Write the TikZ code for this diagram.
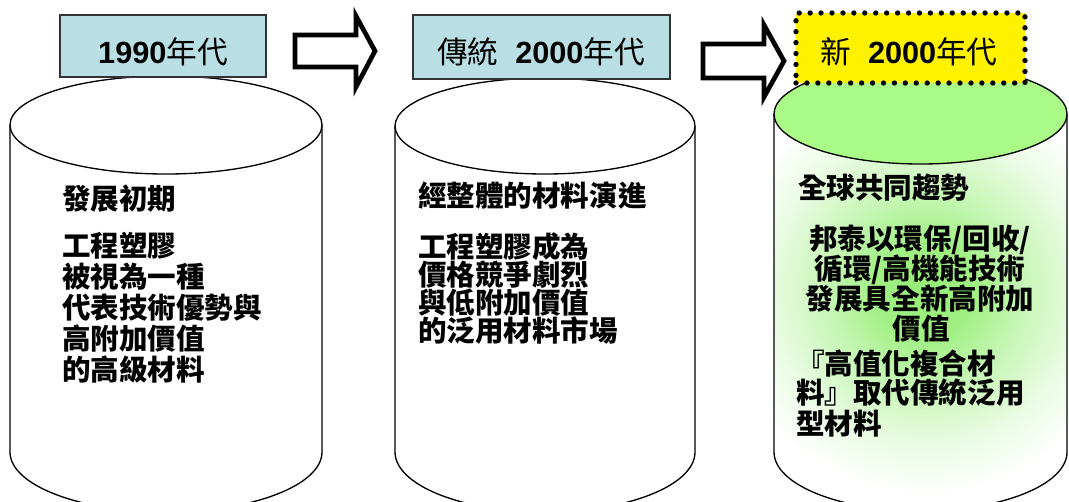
\documentclass[tikz,border=0pt]{standalone}
\usepackage{fontspec}
\setmainfont{Liberation Sans}
\newfontfamily\cjk{Noto Sans CJK TC}
\definecolor{hdrcyan}{RGB}{185,223,228}
\definecolor{cgreen}{RGB}{170,250,136}
\definecolor{cgreenin}{RGB}{150,238,118}
\pgfdeclareradialshading{greenglow}{\pgfpoint{0bp}{0bp}}{color(0bp)=(cgreenin); color(4bp)=(cgreenin!90!white); color(8bp)=(cgreenin!55!white); color(13bp)=(cgreenin!20!white); color(17bp)=(white); color(50bp)=(white)}
\tikzset{
  cylline/.style={draw=black, line width=1pt},
  hdrbox/.style={draw=black!80, line width=0.8pt, fill=hdrcyan, inner sep=0pt},
  newbox/.style={draw=black, fill=yellow, line width=4pt, line cap=round, dash pattern=on 0pt off 8.2pt, inner sep=0pt},
  hdrtxt/.style={inner sep=0pt, font=\fontsize{23}{27}\selectfont},
  bodytxt/.style={inner sep=0pt, font=\cjk\bfseries\fontsize{21.4}{24}\selectfont},
  blockarrow/.style={draw=black, fill=white, line width=3.5pt, line join=miter, miter limit=10},
}
\begin{document}
\begin{tikzpicture}[x=0.75pt,y=-0.75pt]
\useasboundingbox (0,0) rectangle (1069,501);
% cylinder 1
\draw[cylline, fill=white] (10,125) -- (10,452) arc[start angle=180,end angle=0,x radius=156,y radius=60] -- (322,125);
\draw[cylline, fill=white] (166,125) ellipse[x radius=156, y radius=49];
% cylinder 2
\draw[cylline, fill=white] (395,126) -- (395,452) arc[start angle=180,end angle=0,x radius=150,y radius=60] -- (695,126);
\draw[cylline, fill=white] (545,126) ellipse[x radius=150, y radius=48];
% cylinder 3
\fill[white] (774,114) -- (774,452) arc[start angle=180,end angle=0,x radius=146.5,y radius=59] -- (1067,114) -- cycle;
\begin{scope}
\clip (774,114) -- (774,452) arc[start angle=180,end angle=0,x radius=146.5,y radius=59] -- (1067,114) -- cycle;
\shade[shading=greenglow] (625,-10) rectangle (1225,590);
\end{scope}
\draw[cylline] (774,114) -- (774,452) arc[start angle=180,end angle=0,x radius=146.5,y radius=59] -- (1067,114);
\draw[cylline, fill=cgreen] (920.5,114) ellipse[x radius=146.5, y radius=50];
% header boxes
\node[hdrbox, minimum width=206*0.75pt, minimum height=62*0.75pt] (h1) at (163,46) {};
\node[hdrbox, minimum width=257*0.75pt, minimum height=64*0.75pt] (h2) at (541.5,47) {};
\node[newbox, minimum width=229*0.75pt, minimum height=70*0.75pt] (h3) at (910.5,48) {};
\node[hdrtxt, anchor=base] (t1) at (163,63) {\textbf{1990}{\cjk 年代}};
\node[hdrtxt, anchor=base] (t2) at (541,63) {{\cjk 傳統}\hspace{0.55em}\textbf{2000}{\cjk 年代}};
\node[hdrtxt, anchor=base] (t3) at (909,63) {{\cjk 新}\hspace{0.55em}\textbf{2000}{\cjk 年代}};
% block arrows
\draw[blockarrow] (295,35) -- (356,35) -- (356,16) -- (375,51) -- (356,87) -- (356,67) -- (295,67) -- cycle;
\draw[blockarrow] (703,44) -- (764,44) -- (764,25) -- (784,61) -- (764,97) -- (764,78) -- (703,78) -- cycle;
% cylinder 1 text
\node[bodytxt, anchor=base west] (a0) at (62,209) {發展初期};
\node[bodytxt, anchor=base west] (a1) at (62,256) {工程塑膠};
\node[bodytxt, anchor=base west] (a2) at (62,287) {被視為一種};
\node[bodytxt, anchor=base west] (a3) at (62,318) {代表技術優勢與};
\node[bodytxt, anchor=base west] (a4) at (62,349) {高附加價值};
\node[bodytxt, anchor=base west] (a5) at (62,380) {的高級材料};
% cylinder 2 text
\node[bodytxt, anchor=base west] (b0) at (418,206) {經整體的材料演進};
\node[bodytxt, anchor=base west] (b1) at (418,257) {工程塑膠成為};
\node[bodytxt, anchor=base west] (b2) at (418,285) {價格競爭劇烈};
\node[bodytxt, anchor=base west] (b3) at (418,313) {與低附加價值};
\node[bodytxt, anchor=base west] (b4) at (418,341) {的泛用材料市場};
% cylinder 3 text
\node[bodytxt, anchor=base west] (c0) at (798,198) {全球共同趨勢};
\node[bodytxt, anchor=base] (c1) at (920,249) {邦泰以環保/回收/};
\node[bodytxt, anchor=base] (c2) at (920,279) {循環/高機能技術};
\node[bodytxt, anchor=base] (c3) at (920,309) {發展具全新高附加};
\node[bodytxt, anchor=base] (c4) at (921,339) {價值};
\node[bodytxt, anchor=base west] (c5) at (796,374) {『高值化複合材};
\node[bodytxt, anchor=base west] (c6) at (796,403) {料』取代傳統泛用};
\node[bodytxt, anchor=base west] (c7) at (796,434) {型材料};
\end{tikzpicture}
\end{document}
